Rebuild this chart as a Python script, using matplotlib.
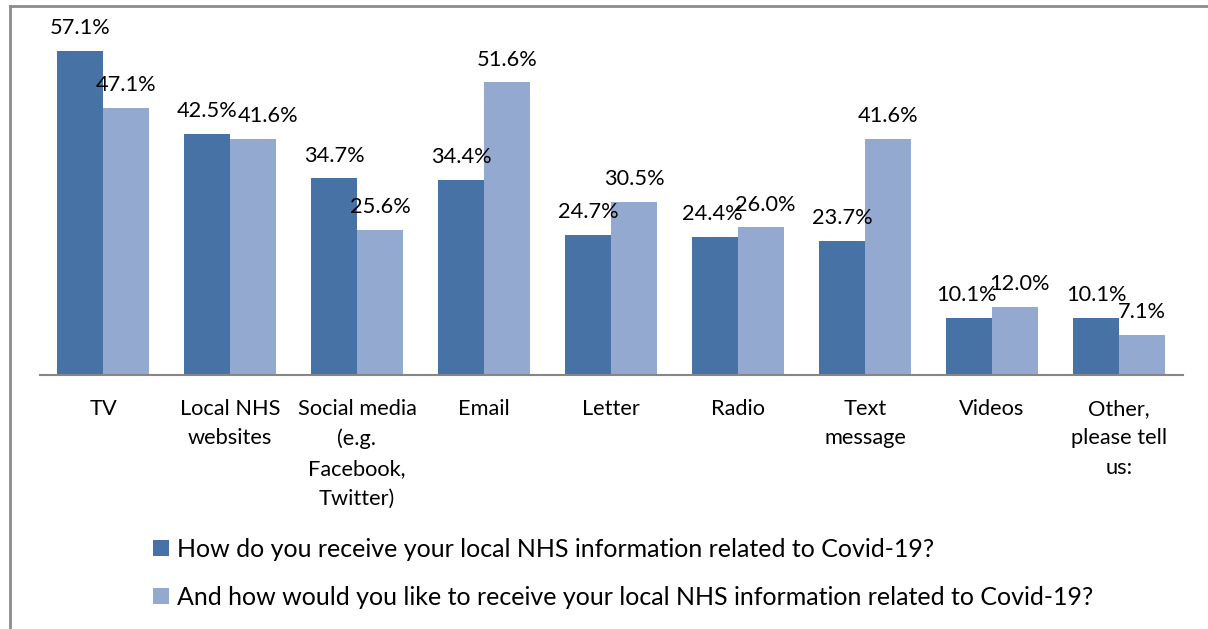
import matplotlib.pyplot as plt
import numpy as np
from matplotlib.lines import Line2D

categories = ['TV', 'Local NHS\nwebsites', 'Social media\n(e.g.\nFacebook,\nTwitter)', 'Email',
              'Letter', 'Radio', 'Text\nmessage', 'Videos', 'Other,\nplease tell\nus:']
receive = [57.1, 42.5, 34.7, 34.4, 24.7, 24.4, 23.7, 10.1, 10.1]
would_like = [47.1, 41.6, 25.6, 51.6, 30.5, 26.0, 41.6, 12.0, 7.1]
series_names = ['How do you receive your local NHS information related to Covid-19?',
                'And how would you like to receive your local NHS information related to Covid-19?']

plt.rcParams['font.family'] = ['Lato', 'DejaVu Sans']
fs = 15.7
fs_leg = 18.0
dark = '#4672A6'
light = '#94A9D0'

fig = plt.figure(figsize=(12.08, 6.29), dpi=100)
ax = fig.add_axes([39.5 / 1208, 254 / 629, (1182.5 - 39.5) / 1208, 340.5 / 629])

x = np.arange(len(categories))
w = 0.362
b1 = ax.bar(x - w / 2, receive, w, color=dark, label=series_names[0])
b2 = ax.bar(x + w / 2, would_like, w, color=light, label=series_names[1])

# sideways nudges (points) for labels that would collide with their neighbour
nudge = {(1, 1): 11, (0, 5): -2, (1, 5): 3, (0, 7): -2, (1, 7): 3}
for k, (bars, vals) in enumerate(((b1, receive), (b2, would_like))):
    for i, (r, v) in enumerate(zip(bars, vals)):
        ax.annotate(f'{v:.1f}%', (r.get_x() + r.get_width() / 2, v),
                    xytext=(nudge.get((k, i), 0), 9),
                    textcoords='offset points', ha='center', va='bottom', fontsize=fs,
                    clip_on=False)

ax.set_xlim(-0.5, len(categories) - 0.5)
ax.set_ylim(0, 60)
ax.set_yticks([])
ax.set_xticks(x)
ax.set_xticklabels(categories, fontsize=fs, linespacing=1.6, va='top')
ax.tick_params(axis='x', length=0, pad=17)
for s in ['top', 'right', 'left']:
    ax.spines[s].set_visible(False)
ax.spines['bottom'].set_color('#868686')
ax.spines['bottom'].set_linewidth(1.5)

fig.legend(handles=[b1, b2], loc='upper left', bbox_to_anchor=(153 / 1208, 1 - 538 / 629),
           frameon=False, fontsize=fs_leg, handlelength=0.62, handleheight=0.62,
           handletextpad=0.35, labelspacing=1.0, borderpad=0, borderaxespad=0)

# outer chart frame (only top and left visible in the crop)
fig.add_artist(Line2D([10 / 1208, 10 / 1208], [0, 1 - 6 / 629], color='#8c8c8c', lw=2,
                      transform=fig.transFigure))
fig.add_artist(Line2D([10 / 1208, 1], [1 - 6 / 629, 1 - 6 / 629], color='#8c8c8c', lw=2,
                      transform=fig.transFigure))

fig.savefig('out.png', dpi=100)
